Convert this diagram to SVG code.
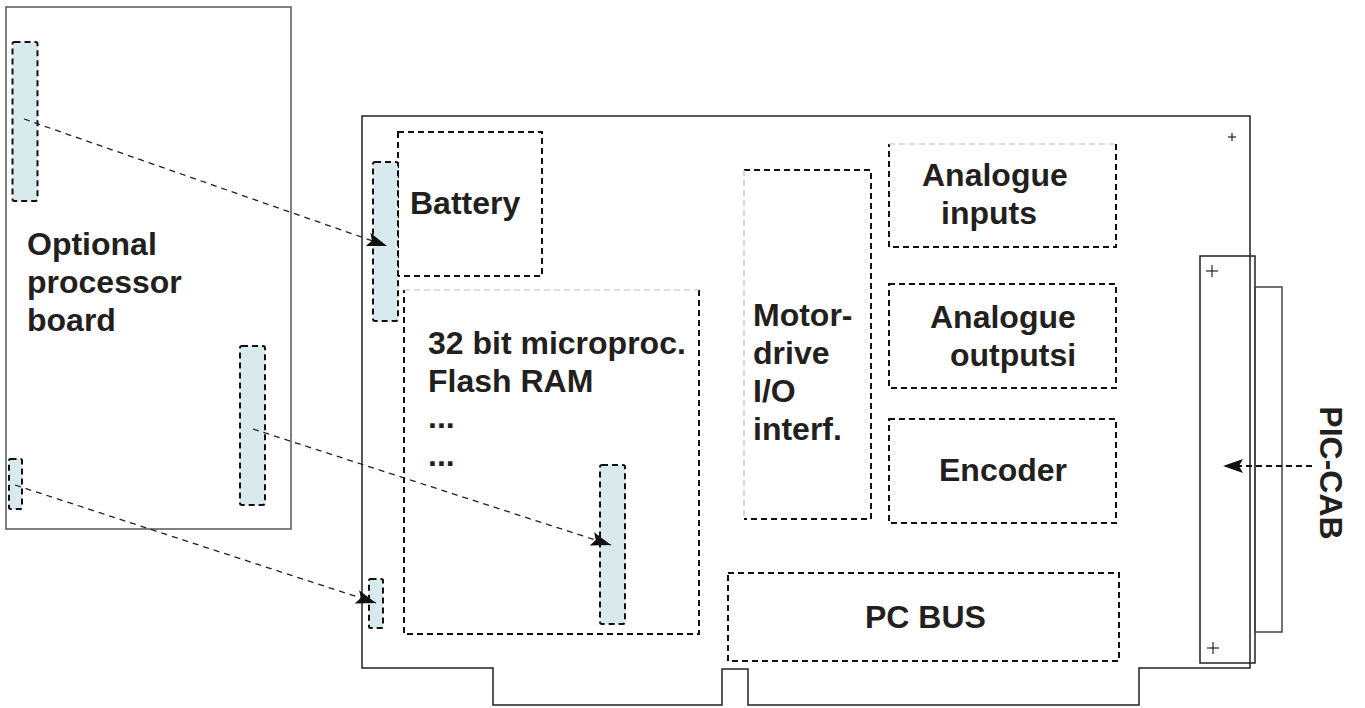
<svg xmlns="http://www.w3.org/2000/svg" width="1365" height="708" viewBox="0 0 1365 708">
<style>
.lbl{font-family:"Liberation Sans",Arial,sans-serif;font-weight:bold;font-size:32px;fill:#231f20}
.outline{fill:none;stroke:#222;stroke-width:1.5}
.box{fill:none;stroke:#111;stroke-width:2;stroke-dasharray:6 4}
.grey{fill:none;stroke:#bbb;stroke-width:1.2;stroke-dasharray:6 4}
.conn{fill:#d8eaec;stroke:#111;stroke-width:2;stroke-dasharray:6 4}
.link{fill:none;stroke:#222;stroke-width:1.3;stroke-dasharray:6 5}
.plus{stroke:#222;stroke-width:1.2}
</style>
<defs>
<marker id="ah" viewBox="0 0 20 14" refX="20" refY="7" markerWidth="20" markerHeight="14" markerUnits="userSpaceOnUse" orient="auto">
<path d="M0,0 L20,7 L0,14 L4,7 z" fill="#111"/>
</marker>
</defs>

<g id="optional-board">
<rect class="outline" x="6" y="7" width="285" height="522" style="stroke:#555"/>
<rect id="conn-a" class="conn" x="12.5" y="42" width="25" height="159" rx="2"/>
<rect id="conn-b" class="conn" x="240" y="346" width="25" height="159" rx="2"/>
<rect id="conn-c" class="conn" x="9" y="459" width="13" height="50" rx="1.5"/>
<text class="lbl" x="27" y="255">Optional</text>
<text class="lbl" x="27" y="293">processor</text>
<text class="lbl" x="27" y="331">board</text>
</g>

<g id="main-board">
<path class="outline" d="M362,116 H1250 V668 H1139 V705 H748 V669 H722 V705 H493 V668 H362 Z"/>
<g class="plus"><line x1="1228" y1="137" x2="1236" y2="137"/><line x1="1232" y1="133" x2="1232" y2="141"/></g>
</g>

<g id="battery">
<rect class="box" x="398" y="132" width="144" height="144"/>
<rect id="conn-battery" class="conn" x="373" y="162" width="25" height="159" rx="2"/>
<text class="lbl" x="410" y="214">Battery</text>
</g>

<g id="microproc">
<path class="box" d="M699,290 V634 H404 V290"/>
<path class="grey" d="M404,290 H699"/>
<rect id="conn-micro" class="conn" x="600" y="465" width="25" height="159" rx="2"/>
<text class="lbl" x="428" y="354">32 bit microproc.</text>
<text class="lbl" x="428" y="392">Flash RAM</text>
<text class="lbl" x="428" y="428">...</text>
<text class="lbl" x="428" y="466">...</text>
</g>

<g id="small-conn">
<rect class="conn" x="369" y="579" width="14" height="49" rx="1.5"/>
</g>

<g id="motor-drive">
<path class="box" d="M744,170 H871 V519 H744"/>
<path class="grey" d="M744,170 V519"/>
<text class="lbl" x="753" y="326">Motor-</text>
<text class="lbl" x="753" y="364">drive</text>
<text class="lbl" x="753" y="402">I/O</text>
<text class="lbl" x="753" y="440">interf.</text>
</g>

<g id="analogue-inputs">
<path class="box" d="M1116,144 V247 H889 V144"/>
<path class="grey" d="M889,144 H1116"/>
<text class="lbl" x="922" y="186">Analogue</text>
<text class="lbl" x="941" y="224">inputs</text>
</g>

<g id="analogue-outputs">
<rect class="box" x="889" y="284" width="227" height="104"/>
<text class="lbl" x="930" y="328">Analogue</text>
<text class="lbl" x="950" y="366">outputsi</text>
</g>

<g id="encoder">
<rect class="box" x="889" y="419" width="227" height="104"/>
<text class="lbl" x="939" y="481">Encoder</text>
</g>

<g id="pc-bus">
<rect class="box" x="728" y="573" width="391" height="88"/>
<text class="lbl" x="865" y="628">PC BUS</text>
</g>

<g id="pic-cab">
<rect class="outline" x="1200" y="256" width="55" height="407"/>
<rect class="outline" x="1255" y="287" width="27" height="345" style="stroke:#444"/>
<g class="plus"><line x1="1206" y1="271" x2="1218" y2="271"/><line x1="1212" y1="265" x2="1212" y2="277"/></g>
<g class="plus"><line x1="1207" y1="648" x2="1219" y2="648"/><line x1="1213" y1="642" x2="1213" y2="654"/></g>
<text class="lbl" transform="translate(1320,473) rotate(90)" text-anchor="middle">PIC-CAB</text>
</g>

<g id="connectors">
<line class="link" x1="24" y1="119" x2="387" y2="246" marker-end="url(#ah)"/>
<line class="link" x1="253" y1="429" x2="611" y2="545" marker-end="url(#ah)"/>
<line class="link" x1="15" y1="485" x2="376" y2="603" marker-end="url(#ah)"/>
<line class="link" x1="1312" y1="466" x2="1223" y2="466" marker-end="url(#ah)" style="stroke:#111;stroke-width:1.8;stroke-dasharray:6 4"/>
</g>
</svg>
